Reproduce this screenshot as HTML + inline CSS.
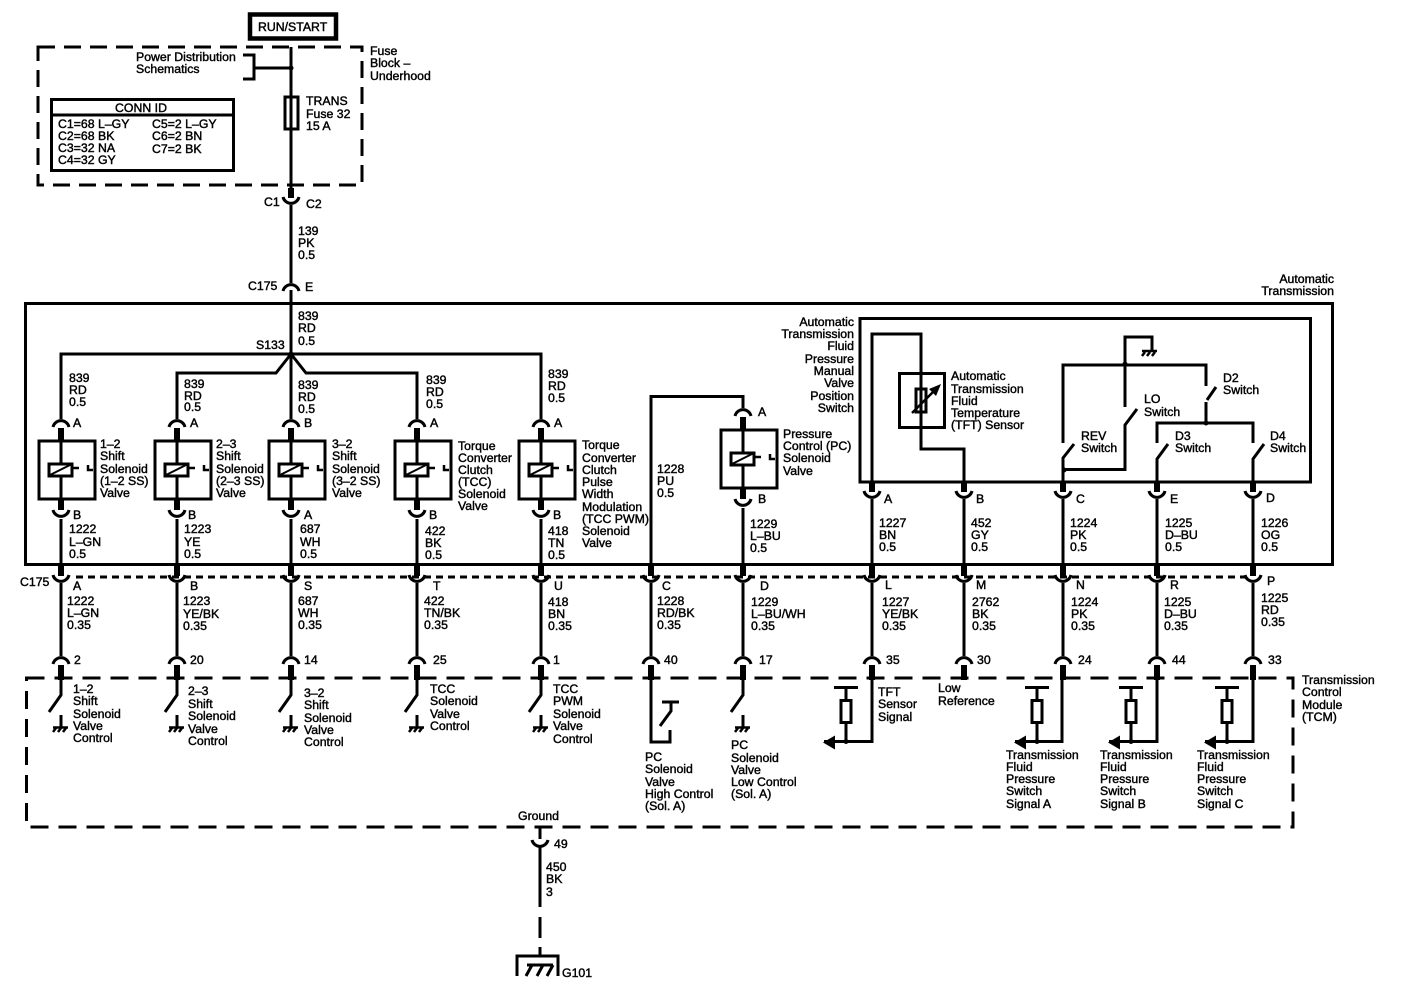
<!DOCTYPE html>
<html>
<head>
<meta charset="utf-8">
<title>Automatic Transmission Wiring Diagram</title>
<style>
html,body{margin:0;padding:0;background:#fff;width:1408px;height:1008px;overflow:hidden}
svg{display:block}
text{font-family:"Liberation Sans",sans-serif;font-size:12.3px;fill:#000;stroke:#000;stroke-width:.42}
.r{text-anchor:end}
.m{text-anchor:middle}
.w{fill:none;stroke:#000;stroke-width:3}
.d{fill:#000;stroke:none}
</style>
</head>
<body>
<svg width="1408" height="1008" viewBox="0 0 1408 1008" xmlns="http://www.w3.org/2000/svg">
<defs>
<g id="low" class="w">
<path d="M0 0V11" stroke-width="6"/><path d="M-8 10A8.2 8.2 0 0 0 8 10"/><path d="M0 18V91"/>
<path d="M-8 99A8.2 8.2 0 0 1 8 99"/><path d="M0 100V115" stroke-width="6"/>
</g>
<g id="sol" class="w">
<path d="M-8 8A8.2 8.2 0 0 1 8 8"/><path d="M0 9V23" stroke-width="6"/>
<rect x="-22" y="22" width="56" height="58"/>
<path d="M0 22V45M0 57V80"/>
<rect x="-12" y="45" width="23" height="12" fill="#fff"/>
<path d="M-11 56L11 45" stroke-width="2"/>
<path d="M11 49H18M27 46V51H32" stroke-width="2.5"/>
<path d="M0 81V91" stroke-width="6"/>
<path d="M-8 91A8.2 8.2 0 0 0 8 91"/>
</g>
<g id="up" class="w">
<path d="M0 0V10" stroke-width="6"/><path d="M-8 9A8.2 8.2 0 0 0 8 9"/><path d="M0 17V83"/>
</g>
<g id="sw" class="w">
<path d="M0 0V15L-12 32"/>
<path d="M0 35V47"/>
<path d="M-8 47.500H7" stroke-width="2.5"/>
<path d="M-5 48L-8 52M0 48L-3 52M5 48L2 52" stroke-width="2.5"/>
</g>
<g id="gnd" class="w">
<path d="M-8 0H7" stroke-width="2.5"/>
<path d="M-5 1L-8 5M0 1L-3 5M5 1L2 5" stroke-width="2.5"/>
</g>
<g id="res" class="w">
<path d="M-12 0H12" />
<path d="M0 0V54" />
<rect x="-5" y="13" width="10" height="22" fill="#fff"/>
<path d="M-22 54H26"/>
<circle class="d" cx="0" cy="54" r="2.5"/>
<path class="d" d="M-23 55L-11 48V62Z"/>
</g>
</defs>

<!-- top -->
<rect x="250" y="14.500" width="86" height="24" fill="#fff" stroke="#000" stroke-width="4.500"/>
<text x="258" y="31">RUN/START</text>
<rect class="w" x="38" y="47" width="324" height="138" stroke-dasharray="17 9"/>
<path class="w" d="M291 47V190"/>
<path class="w" d="M243 55H254V79H243M254 68H291"/>
<circle class="d" cx="291" cy="68" r="2.500"/>
<rect class="w" x="285" y="97" width="13" height="32" fill="#fff"/>
<text x="136" y="61">Power Distribution</text><text x="136" y="73">Schematics</text>
<rect class="w" x="51.500" y="99.500" width="182" height="71"/>
<path class="w" d="M51 115H234"/>
<text x="370" y="55">Fuse</text><text x="370" y="67">Block –</text><text x="370" y="80">Underhood</text>
<text x="306" y="105" stroke-width=".6">TRANS</text><text x="306" y="118">Fuse 32</text><text x="306" y="130">15 A</text>
<text class="m" x="141" y="112">CONN ID</text>
<text x="58" y="128">C1=68 L–GY</text><text x="58" y="140">C2=68 BK</text><text x="58" y="152">C3=32 NA</text><text x="58" y="164">C4=32 GY</text>
<text x="152" y="128">C5=2 L–GY</text><text x="152" y="140">C6=2 BN</text><text x="152" y="153">C7=2 BK</text>

<use href="#up" x="291" y="188"/>
<path class="w" d="M291 205V283"/>
<path class="w" d="M283 291A8.2 8.2 0 0 1 299 291"/>
<path class="w" d="M291 290V304" stroke-width="6"/>
<text x="264" y="206">C1</text><text x="306" y="208">C2</text>
<text x="298" y="235">139</text><text x="298" y="247">PK</text><text x="298" y="259">0.5</text>
<text x="248" y="290">C175</text><text x="305" y="291">E</text>

<!-- main box -->
<rect class="w" x="25.500" y="303.500" width="1307" height="261"/>
<text class="r" x="1334" y="283">Automatic</text><text class="r" x="1334" y="295">Transmission</text>
<text x="298" y="320">839</text><text x="298" y="332">RD</text><text x="298" y="345">0.5</text>
<text x="256" y="349">S133</text>
<path class="w" d="M61 419V354H541V419"/>
<path class="w" d="M177 419V373H276L291 354L306 373H417V419"/>
<path class="w" d="M291 303V419"/>
<circle class="d" cx="291" cy="354" r="2.500"/>

<use href="#sol" x="61" y="419"/><use href="#sol" x="177" y="419"/><use href="#sol" x="291" y="419"/><use href="#sol" x="417" y="419"/><use href="#sol" x="541" y="419"/>
<use href="#sol" x="743" y="408"/>
<path class="w" d="M61 519V565M177 519V565M291 519V565M417 519V565M541 519V565M743 508V565"/>
<path class="w" d="M651 566V396.500H743V408"/>

<text x="69" y="382">839</text><text x="69" y="394">RD</text><text x="69" y="406">0.5</text>
<text x="184" y="388">839</text><text x="184" y="400">RD</text><text x="184" y="411">0.5</text>
<text x="298" y="389">839</text><text x="298" y="401">RD</text><text x="298" y="413">0.5</text>
<text x="426" y="384">839</text><text x="426" y="396">RD</text><text x="426" y="408">0.5</text>
<text x="548" y="378">839</text><text x="548" y="390">RD</text><text x="548" y="402">0.5</text>

<text x="73" y="427">A</text><text x="190" y="427">A</text><text x="304" y="427">B</text><text x="430" y="427">A</text><text x="554" y="427">A</text><text x="758" y="416">A</text>
<text x="73" y="519">B</text><text x="188" y="519">B</text><text x="304" y="519">A</text><text x="429" y="519">B</text><text x="553" y="519">B</text><text x="758" y="503">B</text>

<text x="100" y="448">1–2</text><text x="100" y="460">Shift</text><text x="100" y="473">Solenoid</text><text x="100" y="485">(1–2 SS)</text><text x="100" y="497">Valve</text>
<text x="216" y="448">2–3</text><text x="216" y="460">Shift</text><text x="216" y="473">Solenoid</text><text x="216" y="485">(2–3 SS)</text><text x="216" y="497">Valve</text>
<text x="332" y="448">3–2</text><text x="332" y="460">Shift</text><text x="332" y="473">Solenoid</text><text x="332" y="485">(3–2 SS)</text><text x="332" y="497">Valve</text>
<text x="458" y="450">Torque</text><text x="458" y="462">Converter</text><text x="458" y="474">Clutch</text><text x="458" y="486">(TCC)</text><text x="458" y="498">Solenoid</text><text x="458" y="510">Valve</text>
<text x="582" y="449">Torque</text><text x="582" y="462">Converter</text><text x="582" y="474">Clutch</text><text x="582" y="486">Pulse</text><text x="582" y="498">Width</text><text x="582" y="511">Modulation</text><text x="582" y="523">(TCC PWM)</text><text x="582" y="535">Solenoid</text><text x="582" y="547">Valve</text>
<text x="783" y="438">Pressure</text><text x="783" y="450">Control (PC)</text><text x="783" y="462">Solenoid</text><text x="783" y="475">Valve</text>

<text x="69" y="533">1222</text><text x="69" y="546">L–GN</text><text x="69" y="558">0.5</text>
<text x="184" y="533">1223</text><text x="184" y="546">YE</text><text x="184" y="558">0.5</text>
<text x="300" y="533">687</text><text x="300" y="546">WH</text><text x="300" y="558">0.5</text>
<text x="425" y="535">422</text><text x="425" y="547">BK</text><text x="425" y="559">0.5</text>
<text x="548" y="535">418</text><text x="548" y="547">TN</text><text x="548" y="559">0.5</text>
<text x="657" y="473">1228</text><text x="657" y="485">PU</text><text x="657" y="497">0.5</text>
<text x="750" y="528">1229</text><text x="750" y="540">L–BU</text><text x="750" y="552">0.5</text>

<!-- switch box -->
<rect class="w" x="860" y="318.500" width="450.500" height="163.500"/>
<text class="r" x="854" y="326">Automatic</text><text class="r" x="854" y="338">Transmission</text><text class="r" x="854" y="350">Fluid</text><text class="r" x="854" y="363">Pressure</text><text class="r" x="854" y="375">Manual</text><text class="r" x="854" y="387">Valve</text><text class="r" x="854" y="400">Position</text><text class="r" x="854" y="412">Switch</text>
<path class="w" d="M872 482V334H921V449H964V482"/>
<rect class="w" x="899.500" y="373.500" width="45" height="54"/>
<rect class="w" x="916" y="389" width="10" height="23" fill="#fff"/>
<path class="w" d="M921 373V389M921 412V428"/>
<path d="M912 413L936 389" stroke="#000" stroke-width="2.500"/>
<path class="d" d="M941 384L936 396L929 389Z"/>
<text x="951" y="380">Automatic</text><text x="951" y="393">Transmission</text><text x="951" y="405">Fluid</text><text x="951" y="417">Temperature</text><text x="951" y="429">(TFT) Sensor</text>

<path class="w" d="M1125 407V337H1152V350"/>
<use href="#gnd" x="1150" y="351"/>
<path class="w" d="M1063 443V365H1206V386"/>
<circle class="d" cx="1125" cy="364" r="2.500"/>
<path class="w" d="M1207 400L1216 387" stroke-width="2.500"/>
<path class="w" d="M1206 423V402"/>
<path class="w" d="M1157 443V423H1253V443"/>
<circle class="d" cx="1206" cy="423" r="2.500"/>
<path class="w" d="M1063 482V458L1074 444"/>
<circle class="d" cx="1064" cy="470" r="2.500"/>
<path class="w" d="M1064 469.500H1125V425L1137 409"/>
<path class="w" d="M1157 482V459L1168 444"/>
<path class="w" d="M1253 482V459L1264 444"/>
<text x="1223" y="382">D2</text><text x="1223" y="394">Switch</text>
<text x="1144" y="403">LO</text><text x="1144" y="416">Switch</text>
<text x="1081" y="440" stroke-width=".6">REV</text><text x="1081" y="452">Switch</text>
<text x="1175" y="440" stroke-width=".6">D3</text><text x="1175" y="452">Switch</text>
<text x="1270" y="440" stroke-width=".6">D4</text><text x="1270" y="452">Switch</text>

<use href="#up" x="872" y="482"/><use href="#up" x="964" y="482"/><use href="#up" x="1063" y="482"/><use href="#up" x="1157" y="482"/><use href="#up" x="1253" y="482"/>
<text x="884" y="503">A</text><text x="976" y="503">B</text><text x="1076" y="503">C</text><text x="1170" y="503">E</text><text x="1266" y="502">D</text>
<text x="879" y="527">1227</text><text x="879" y="539">BN</text><text x="879" y="551">0.5</text>
<text x="971" y="527">452</text><text x="971" y="539">GY</text><text x="971" y="551">0.5</text>
<text x="1070" y="527">1224</text><text x="1070" y="539">PK</text><text x="1070" y="551">0.5</text>
<text x="1165" y="527">1225</text><text x="1165" y="539">D–BU</text><text x="1165" y="551">0.5</text>
<text x="1261" y="527">1226</text><text x="1261" y="539">OG</text><text x="1261" y="551">0.5</text>

<!-- C175 dashed line -->
<path class="w" d="M76 577H1246" stroke-width="2.500" stroke-dasharray="7 5"/>
<use href="#low" x="61" y="565"/><use href="#low" x="177" y="565"/><use href="#low" x="291" y="565"/><use href="#low" x="417" y="565"/><use href="#low" x="541" y="565"/><use href="#low" x="651" y="565"/><use href="#low" x="743" y="565"/><use href="#low" x="872" y="565"/><use href="#low" x="964" y="565"/><use href="#low" x="1063" y="565"/><use href="#low" x="1157" y="565"/><use href="#low" x="1253" y="565"/>
<text x="20" y="586">C175</text>
<text x="73" y="590">A</text><text x="190" y="590">B</text><text x="304" y="590">S</text><text x="433" y="590">T</text><text x="554" y="590">U</text><text x="662" y="590">C</text><text x="760" y="590">D</text><text x="885" y="589">L</text><text x="976" y="589">M</text><text x="1076" y="589">N</text><text x="1170" y="589">R</text><text x="1267" y="585">P</text>

<text x="67" y="605">1222</text><text x="67" y="617">L–GN</text><text x="67" y="629">0.35</text>
<text x="183" y="605">1223</text><text x="183" y="618">YE/BK</text><text x="183" y="630">0.35</text>
<text x="298" y="605">687</text><text x="298" y="617">WH</text><text x="298" y="629">0.35</text>
<text x="424" y="605">422</text><text x="424" y="617">TN/BK</text><text x="424" y="629">0.35</text>
<text x="548" y="606">418</text><text x="548" y="618">BN</text><text x="548" y="630">0.35</text>
<text x="657" y="605">1228</text><text x="657" y="617">RD/BK</text><text x="657" y="629">0.35</text>
<text x="751" y="606">1229</text><text x="751" y="618">L–BU/WH</text><text x="751" y="630">0.35</text>
<text x="882" y="606">1227</text><text x="882" y="618">YE/BK</text><text x="882" y="630">0.35</text>
<text x="972" y="606">2762</text><text x="972" y="618">BK</text><text x="972" y="630">0.35</text>
<text x="1071" y="606">1224</text><text x="1071" y="618">PK</text><text x="1071" y="630">0.35</text>
<text x="1164" y="606">1225</text><text x="1164" y="618">D–BU</text><text x="1164" y="630">0.35</text>
<text x="1261" y="602">1225</text><text x="1261" y="614">RD</text><text x="1261" y="626">0.35</text>

<text x="74" y="664">2</text><text x="190" y="664">20</text><text x="304" y="664">14</text><text x="433" y="664">25</text><text x="553" y="664">1</text><text x="664" y="664">40</text><text x="759" y="664">17</text><text x="886" y="664">35</text><text x="977" y="664">30</text><text x="1078" y="664">24</text><text x="1172" y="664">44</text><text x="1268" y="664">33</text>

<!-- TCM -->
<rect class="w" x="26.500" y="678" width="1266.500" height="149" stroke-dasharray="18 10"/>
<use href="#sw" x="61" y="680"/><use href="#sw" x="177" y="680"/><use href="#sw" x="291" y="680"/><use href="#sw" x="417" y="680"/><use href="#sw" x="541" y="680"/><use href="#sw" x="743" y="680"/>
<path class="w" d="M651 680V742H670V730"/>
<path class="w" d="M662 702H679M671 702V711L660 726"/>
<path class="w" d="M872 680V741.500H846"/><use href="#res" x="846" y="687.500"/>
<path class="w" d="M1062 680V741.500H1037"/><use href="#res" x="1037" y="687.500"/>
<path class="w" d="M1157 680V741.500H1131"/><use href="#res" x="1131" y="687.500"/>
<path class="w" d="M1253 680V741.500H1227"/><use href="#res" x="1227" y="687.500"/>

<text x="73" y="693">1–2</text><text x="73" y="705">Shift</text><text x="73" y="718">Solenoid</text><text x="73" y="730">Valve</text><text x="73" y="742">Control</text>
<text x="188" y="695">2–3</text><text x="188" y="708">Shift</text><text x="188" y="720">Solenoid</text><text x="188" y="733">Valve</text><text x="188" y="745">Control</text>
<text x="304" y="697">3–2</text><text x="304" y="709">Shift</text><text x="304" y="722">Solenoid</text><text x="304" y="734">Valve</text><text x="304" y="746">Control</text>
<text x="430" y="693">TCC</text><text x="430" y="705">Solenoid</text><text x="430" y="718">Valve</text><text x="430" y="730">Control</text>
<text x="553" y="693">TCC</text><text x="553" y="705">PWM</text><text x="553" y="718">Solenoid</text><text x="553" y="730">Valve</text><text x="553" y="743">Control</text>
<text x="645" y="761">PC</text><text x="645" y="773">Solenoid</text><text x="645" y="786">Valve</text><text x="645" y="798">High Control</text><text x="645" y="810">(Sol. A)</text>
<text x="731" y="749">PC</text><text x="731" y="762">Solenoid</text><text x="731" y="774">Valve</text><text x="731" y="786">Low Control</text><text x="731" y="798">(Sol. A)</text>
<text x="878" y="696" stroke-width=".6">TFT</text><text x="878" y="708">Sensor</text><text x="878" y="721">Signal</text>
<text x="938" y="692">Low</text><text x="938" y="705">Reference</text>
<text x="1006" y="759">Transmission</text><text x="1006" y="771">Fluid</text><text x="1006" y="783">Pressure</text><text x="1006" y="795">Switch</text><text x="1006" y="808">Signal A</text>
<text x="1100" y="759">Transmission</text><text x="1100" y="771">Fluid</text><text x="1100" y="783">Pressure</text><text x="1100" y="795">Switch</text><text x="1100" y="808">Signal B</text>
<text x="1197" y="759">Transmission</text><text x="1197" y="771">Fluid</text><text x="1197" y="783">Pressure</text><text x="1197" y="795">Switch</text><text x="1197" y="808">Signal C</text>
<text x="1302" y="684">Transmission</text><text x="1302" y="696">Control</text><text x="1302" y="709">Module</text><text x="1302" y="721">(TCM)</text>

<!-- ground -->
<text x="518" y="820">Ground</text>
<path class="w" d="M540 827V839" stroke-width="6"/>
<path class="w" d="M532 840A8.2 8.2 0 0 0 548 840"/>
<path class="w" d="M540 847V907M540 917V938M540 947V955"/>
<path class="w" d="M517 976V956H558V976"/>
<path class="w" d="M527 965H553M532 965L526 976M543 965L537 976M553 965L547 976" stroke-width="2.500"/>
<text x="554" y="848">49</text>
<text x="546" y="871">450</text><text x="546" y="883">BK</text><text x="546" y="896">3</text>
<text x="562" y="977">G101</text>
</svg>
</body>
</html>
